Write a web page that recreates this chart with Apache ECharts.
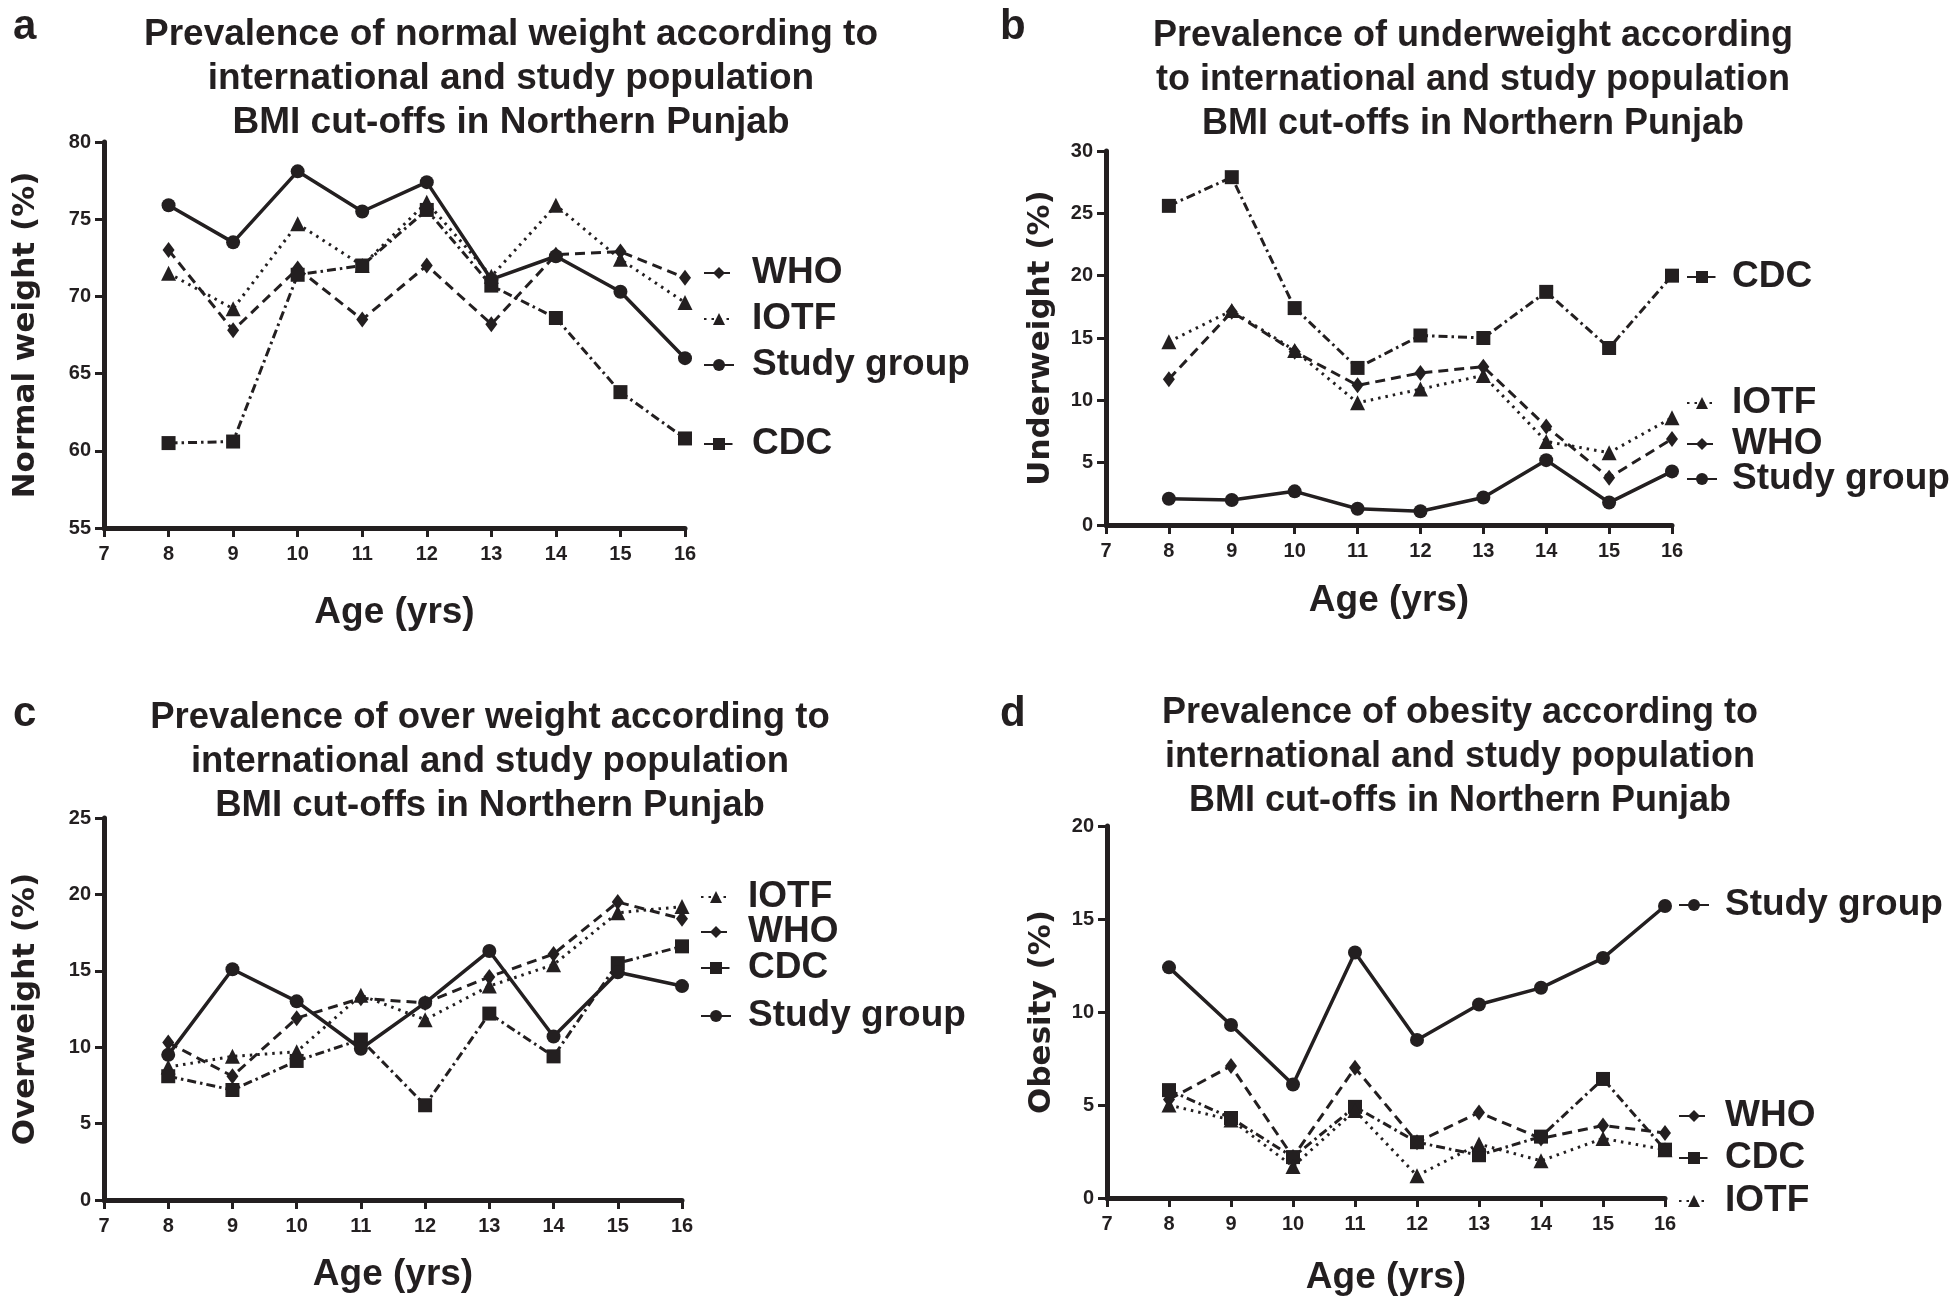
<!DOCTYPE html>
<html>
<head>
<meta charset="utf-8">
<script src="https://cdn.jsdelivr.net/npm/echarts@6/dist/echarts.min.js"></script>
<style>
html,body{margin:0;padding:0;background:#fff;}
#c{width:1952px;height:1308px;}
</style>
</head>
<body>
<div id="c"></div>
<script>
// ---------- data ----------
const ages = [8, 9, 10, 11, 12, 13, 14, 15, 16];

// a: Normal weight (%)
const normalStudy = [75.9, 73.5, 78.1, 75.5, 77.4, 71.1, 72.6, 70.3, 66.0];
const normalWHO   = [73.0, 67.8, 71.8, 68.5, 72.0, 68.2, 72.7, 72.9, 71.2];
const normalIOTF  = [71.5, 69.2, 74.7, 72.0, 76.1, 71.3, 75.9, 72.4, 69.6];
const normalCDC   = [60.5, 60.6, 71.4, 72.0, 75.6, 70.7, 68.6, 63.8, 60.8];

// b: Underweight (%)
const underStudy = [2.1, 2.0, 2.7, 1.3, 1.1, 2.2, 5.2, 1.8, 4.3];
const underWHO   = [11.7, 17.1, 13.9, 11.2, 12.2, 12.7, 7.9, 3.8, 6.9];
const underIOTF  = [14.7, 17.2, 14.0, 9.8, 10.9, 12.0, 6.7, 5.8, 8.6];
const underCDC   = [25.6, 27.9, 17.4, 12.6, 15.2, 15.0, 18.7, 14.2, 20.0];

// c: Overweight (%)
const overStudy = [9.5, 15.1, 13.0, 9.9, 12.9, 16.3, 10.7, 14.9, 14.0];
const overWHO   = [10.3, 8.1, 11.9, 13.2, 12.9, 14.6, 16.1, 19.5, 18.4];
const overIOTF  = [8.7, 9.4, 9.7, 13.4, 11.8, 14.0, 15.4, 18.8, 19.2];
const overCDC   = [8.1, 7.2, 9.1, 10.5, 6.2, 12.2, 9.4, 15.5, 16.6];

// d: Obesity (%)
const obeStudy = [12.4, 9.3, 6.1, 13.2, 8.5, 10.4, 11.3, 12.9, 15.7];
const obeWHO   = [5.3, 7.1, 2.2, 7.0, 3.0, 4.6, 3.2, 3.9, 3.5];
const obeCDC   = [5.8, 4.3, 2.2, 4.9, 3.0, 2.3, 3.3, 6.4, 2.6];
const obeIOTF  = [5.0, 4.2, 1.7, 4.7, 1.2, 2.9, 2.0, 3.2, 2.6];

const panelLetters = ['a', 'b', 'c', 'd'];
const panelTitles = [
  'Prevalence of normal weight according to\ninternational and study population\nBMI cut-offs in Northern Punjab',
  'Prevalence of underweight according\nto international and study population\nBMI cut-offs in Northern Punjab',
  'Prevalence of over weight according to\ninternational and study population\nBMI cut-offs in Northern Punjab',
  'Prevalence of obesity according to\ninternational and study population\nBMI cut-offs in Northern Punjab'
];
const yNames = ['Normal weight (%)', 'Underweight (%)', 'Overweight (%)', 'Obesity (%)'];
const xName = 'Age (yrs)';
const yRanges = [[55, 80], [0, 30], [0, 25], [0, 20]];
const xRange = [7, 16];

// ---------- styles ----------
const INK = '#231f20';
const SANS = "'Liberation Sans', Arial, Helvetica, sans-serif";
const WIDE = "'DejaVu Sans', Verdana, sans-serif";

const styles = {
  'Study group': { symbol: 'circle', symbolSize: 14, type: 'solid', width: 3.5 },
  'WHO':         { symbol: 'diamond', symbolSize: [12, 16], type: [10, 6], width: 3 },
  'IOTF':        { symbol: 'triangle', symbolSize: 15, type: [2.5, 5], width: 3 },
  'CDC':         { symbol: 'rect', symbolSize: 14, type: [9, 4, 2.5, 4], width: 3 }
};

const panelData = [
  { 'WHO': normalWHO, 'IOTF': normalIOTF, 'Study group': normalStudy, 'CDC': normalCDC },
  { 'CDC': underCDC, 'IOTF': underIOTF, 'WHO': underWHO, 'Study group': underStudy },
  { 'IOTF': overIOTF, 'WHO': overWHO, 'CDC': overCDC, 'Study group': overStudy },
  { 'Study group': obeStudy, 'WHO': obeWHO, 'CDC': obeCDC, 'IOTF': obeIOTF }
];

// layout
const grids = [
  { left: 104, top: 142, width: 581, height: 386 },
  { left: 1106, top: 151, width: 566, height: 374 },
  { left: 104, top: 818, width: 578, height: 382 },
  { left: 1107, top: 826, width: 558, height: 372 }
];
const titlePos = [ { x: 511, y: 13 }, { x: 1473, y: 14 }, { x: 490, y: 696 }, { x: 1460, y: 691 } ];
const titleSize = [37, 36, 36.5, 36];
const letterPos = [ { x: 27, y: 28 }, { x: 1014, y: 28 }, { x: 27, y: 715 }, { x: 1014, y: 715 } ];
const yNameGap = [63, 50, 63, 50];
const xNameGap = [66, 57, 56, 61];
// legend item positions: [name, iconLeft, centerY]
const legendPos = [
  [['WHO', 703, 273], ['IOTF', 703, 319], ['Study group', 703, 365], ['CDC', 703, 444]],
  [['CDC', 1686, 277], ['IOTF', 1686, 403], ['WHO', 1686, 444], ['Study group', 1686, 479]],
  [['IOTF', 700, 897], ['WHO', 700, 932], ['CDC', 700, 968], ['Study group', 700, 1016]],
  [['Study group', 1678, 905], ['WHO', 1678, 1116], ['CDC', 1678, 1158], ['IOTF', 1678, 1201]]
];
const legendTextPad = [13, 10, 12, 11];

// ---------- build option ----------
const option = {
  backgroundColor: '#fff',
  animation: false,
  title: [], grid: [], xAxis: [], yAxis: [], series: [], legend: [], graphic: []
};

for (let p = 0; p < 4; p++) {
  option.title.push({
    text: panelTitles[p], left: titlePos[p].x, top: titlePos[p].y, textAlign: 'center', padding: 0,
    textStyle: { fontFamily: SANS, fontWeight: 'bold', fontSize: titleSize[p], lineHeight: 44, color: INK }
  });
  option.graphic.push({
    type: 'text', left: letterPos[p].x - 14, top: letterPos[p].y - 22,
    style: { text: panelLetters[p], font: "bold 42px " + SANS, fill: INK }
  });
  option.grid.push(Object.assign({ outerBoundsMode: 'none', containLabel: false }, grids[p]));
  option.xAxis.push({
    gridIndex: p, type: 'value', min: xRange[0], max: xRange[1], interval: 1,
    name: xName, nameLocation: 'middle', nameGap: xNameGap[p],
    nameTextStyle: { fontFamily: SANS, fontWeight: 'bold', fontSize: 37, color: INK },
    axisLine: { onZero: false, lineStyle: { color: INK, width: 5 } },
    axisTick: { show: true, length: 9, lineStyle: { color: INK, width: 3 } },
    axisLabel: { margin: 16, fontFamily: SANS, fontWeight: 'bold', fontSize: 20, color: INK },
    splitLine: { show: false }
  });
  option.yAxis.push({
    gridIndex: p, type: 'value', min: yRanges[p][0], max: yRanges[p][1], interval: 5,
    name: yNames[p], nameLocation: 'middle', nameGap: yNameGap[p], nameRotate: 90,
    nameTextStyle: { fontFamily: WIDE, fontWeight: 'bold', fontSize: 31, color: INK },
    axisLine: { show: true, onZero: false, lineStyle: { color: INK, width: 5 } },
    axisTick: { show: true, length: 9, lineStyle: { color: INK, width: 3 } },
    axisLabel: { margin: 13, fontFamily: SANS, fontWeight: 'bold', fontSize: 20, color: INK },
    splitLine: { show: false }
  });
  const d = panelData[p];
  Object.keys(d).forEach(function (name) {
    const st = styles[name];
    option.series.push({
      name: name, type: 'line', xAxisIndex: p, yAxisIndex: p,
      data: ages.map(function (a, i) { return [a, d[name][i]]; }),
      symbol: st.symbol, symbolSize: st.symbolSize, showAllSymbol: true,
      lineStyle: { color: INK, width: st.width, type: st.type },
      itemStyle: { color: INK },
      z: name === 'Study group' ? 3 : 2
    });
  });
  legendPos[p].forEach(function (lp) {
    option.legend.push({
      data: [lp[0]], left: lp[1], top: lp[2] - 20, padding: 0,
      itemWidth: 30, itemHeight: 15, selectedMode: false,
      textStyle: { fontFamily: SANS, fontWeight: 'bold', fontSize: 37, lineHeight: 40, color: INK, padding: [0, 0, 0, legendTextPad[p]] }
    });
  });
}

const chart = echarts.init(document.getElementById('c'), null, { renderer: 'canvas' });
chart.setOption(option);
</script>
</body>
</html>
